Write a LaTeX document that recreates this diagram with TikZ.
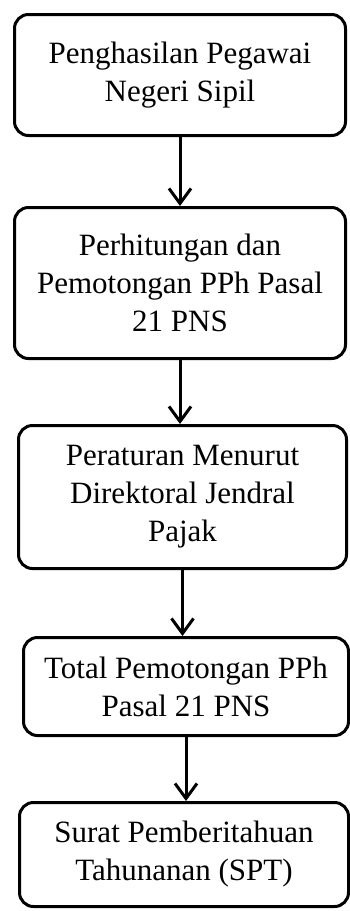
\documentclass[tikz,border=0pt]{standalone}
\usepackage{fontspec}
\setmainfont{Liberation Serif}
\usetikzlibrary{positioning, arrows.meta}
\tikzset{
  x=1pt, y=-1pt, % pixel-like units, y pointing down
  >={Straight Barb[length=15pt, width=22pt]}, % open arrow heads
  box/.style={draw, rounded corners=14pt, line width=3pt, align=center,
    font=\fontsize{31}{38}\selectfont}, % the rounded boxes
  flow/.style={->, line width=3pt}, % the connecting arrows
}

\begin{document}
\begin{tikzpicture}
  \useasboundingbox (0,0) rectangle (349,911);

  \node[box, minimum width=331pt, minimum height=121pt] (income) at (180,75)
    {Penghasilan Pegawai\\Negeri Sipil};
  \node[box, below=69pt of income, minimum width=331pt, minimum height=151pt] (calc)
    {Perhitungan dan\\Pemotongan PPh Pasal\\21 PNS};
  \node[box, below=64pt of calc, xshift=2.5pt, minimum width=328pt, minimum height=143pt] (rule)
    {Peraturan Menurut\\Direktoral Jendral\\Pajak};
  \node[box, below=66pt of rule, xshift=3.5pt, minimum width=325pt, minimum height=98pt] (total)
    {Total Pemotongan PPh\\Pasal 21 PNS};
  \node[box, below=64pt of total, xshift=-2pt, minimum width=329pt, minimum height=104pt] (spt)
    {Surat Pemberitahuan\\Tahunanan (SPT)};

  \draw[flow] (income.south) -- (income.south |- calc.north);
  \draw[flow] (calc.south) -- (calc.south |- rule.north);
  \draw[flow] (rule.south) -- (rule.south |- total.north);
  \draw[flow] (total.south) -- (total.south |- spt.north);

\end{tikzpicture}
\end{document}
